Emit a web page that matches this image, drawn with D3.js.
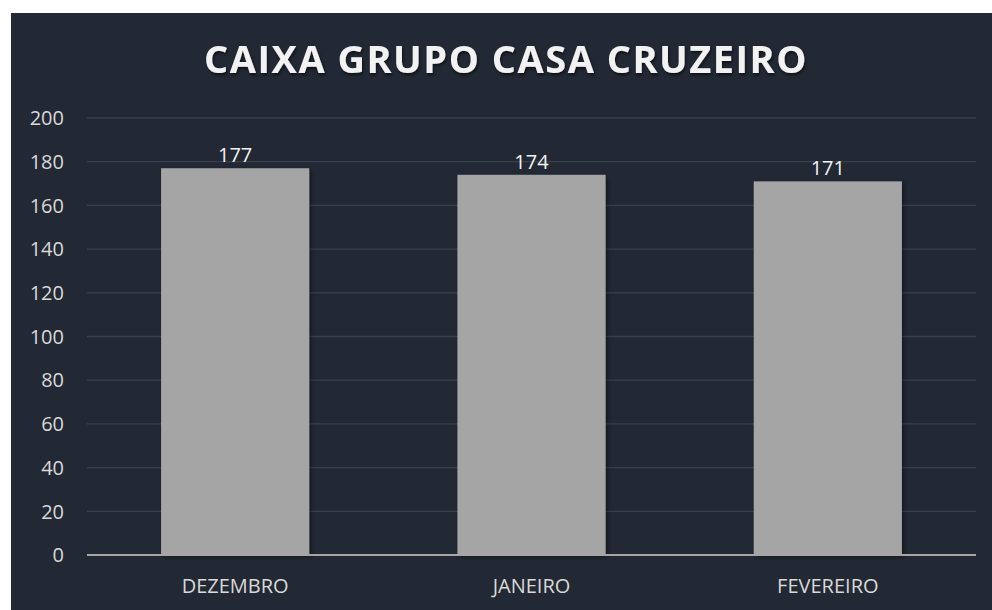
<!DOCTYPE html>
<html>
<head>
<meta charset="utf-8">
<script src="https://cdn.jsdelivr.net/npm/d3@7"></script>
<style>
  body { margin: 0; background: #fff; }
  svg { display: block; }
</style>
</head>
<body>
<svg id="chart" width="992" height="610"></svg>
<script>
const months = ["DEZEMBRO", "JANEIRO", "FEVEREIRO"];
const values = [177, 174, 171];
const yTicks = [0, 20, 40, 60, 80, 100, 120, 140, 160, 180, 200];

const svg = d3.select("#chart");
const font = "'Open Sans', 'Noto Sans', sans-serif";

// panel background
svg.append("rect")
    .attr("x", 11).attr("y", 13)
    .attr("width", 992 - 11).attr("height", 610 - 13)
    .attr("fill", "#222834");

const defs = svg.append("defs");
const shadow = defs.append("filter").attr("id", "barShadow")
    .attr("x", "-10%").attr("y", "-10%").attr("width", "130%").attr("height", "130%");
shadow.append("feDropShadow")
    .attr("dx", 2).attr("dy", 2).attr("stdDeviation", 2)
    .attr("flood-color", "#000").attr("flood-opacity", 0.45);

const titleShadow = defs.append("filter").attr("id", "titleShadow");
titleShadow.append("feDropShadow")
    .attr("dx", 1).attr("dy", 2).attr("stdDeviation", 1.5)
    .attr("flood-color", "#000").attr("flood-opacity", 0.6);

const plotLeft = 87, plotRight = 976, plotTop = 118, plotBottom = 555;

const x = d3.scaleBand()
    .domain(months)
    .range([plotLeft, plotRight])
    .paddingInner(0.5)
    .paddingOuter(0.25);

const y = d3.scaleLinear()
    .domain([0, 200])
    .range([plotBottom, plotTop]);

// gridlines
svg.append("g")
    .selectAll("line")
    .data(yTicks.filter(d => d > 0))
    .join("line")
    .attr("x1", plotLeft).attr("x2", plotRight)
    .attr("y1", d => y(d)).attr("y2", d => y(d))
    .attr("stroke", "#3a414c")
    .attr("stroke-width", 1.3);

// y labels
svg.append("g")
    .selectAll("text")
    .data(yTicks)
    .join("text")
    .attr("x", 64)
    .attr("y", d => y(d))
    .attr("dy", "0.36em")
    .attr("text-anchor", "end")
    .attr("fill", "#d9d9d9")
    .style("font-family", font)
    .style("font-size", "20px")
    .text(d => d);

// bars
svg.append("g")
    .selectAll("rect")
    .data(values)
    .join("rect")
    .attr("x", (d, i) => x(months[i]))
    .attr("y", d => y(d))
    .attr("width", x.bandwidth())
    .attr("height", d => y(0) - y(d))
    .attr("fill", "#a5a5a5")
    .attr("filter", "url(#barShadow)");

// baseline
svg.append("line")
    .attr("x1", plotLeft).attr("x2", plotRight)
    .attr("y1", y(0)).attr("y2", y(0))
    .attr("stroke", "#a6a6a6")
    .attr("stroke-width", 2);

// value labels
svg.append("g")
    .selectAll("text")
    .data(values)
    .join("text")
    .attr("x", (d, i) => x(months[i]) + x.bandwidth() / 2)
    .attr("y", d => y(d) - 6)
    .attr("text-anchor", "middle")
    .attr("fill", "#f2f2f2")
    .style("font-family", font)
    .style("font-size", "20px")
    .text(d => d);

// category labels
svg.append("g")
    .selectAll("text")
    .data(months)
    .join("text")
    .attr("x", d => x(d) + x.bandwidth() / 2)
    .attr("y", 593)
    .attr("text-anchor", "middle")
    .attr("fill", "#d9d9d9")
    .style("font-family", font)
    .style("font-size", "20px")
    .text(d => d);

// title
svg.append("text")
    .attr("x", 506)
    .attr("y", 73)
    .attr("text-anchor", "middle")
    .attr("fill", "#f2f2f2")
    .attr("filter", "url(#titleShadow)")
    .style("font-family", font)
    .style("font-size", "38px")
    .style("font-weight", "bold")
    .style("letter-spacing", "1.5px")
    .text("CAIXA GRUPO CASA CRUZEIRO");
</script>
</body>
</html>
